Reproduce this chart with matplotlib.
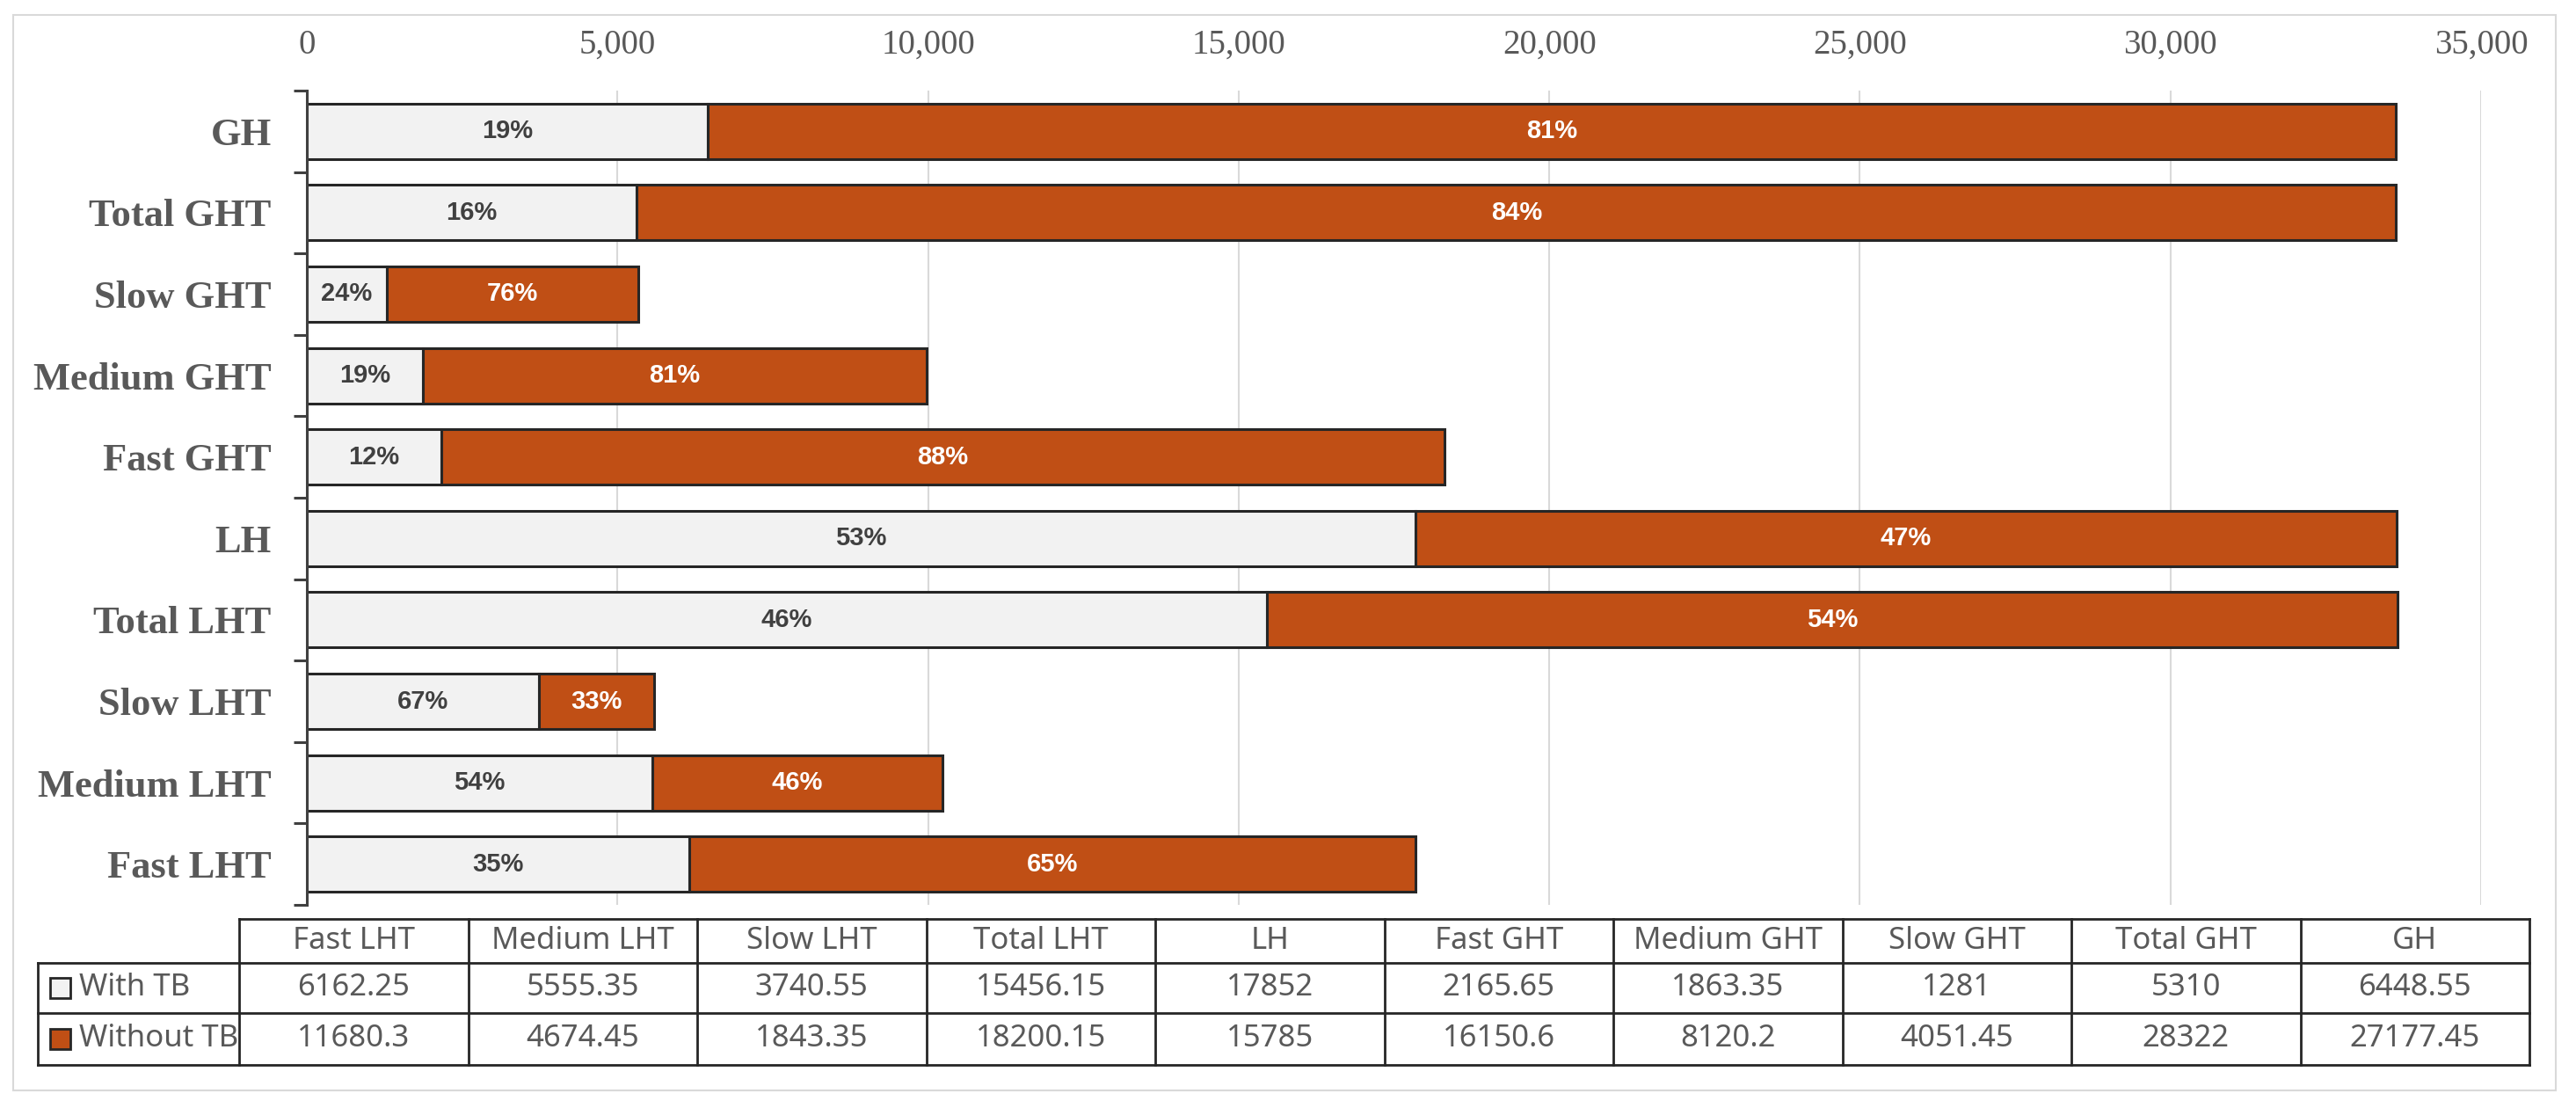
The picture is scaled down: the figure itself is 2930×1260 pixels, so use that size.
import numpy as np
import matplotlib.pyplot as plt
from matplotlib.patches import Rectangle

# data, bottom to top (same order as the data table)
categories = ['Fast LHT', 'Medium LHT', 'Slow LHT', 'Total LHT', 'LH',
              'Fast GHT', 'Medium GHT', 'Slow GHT', 'Total GHT', 'GH']
with_tb = [6162.25, 5555.35, 3740.55, 15456.15, 17852,
           2165.65, 1863.35, 1281, 5310, 6448.55]
without_tb = [11680.3, 4674.45, 1843.35, 18200.15, 15785,
              16150.6, 8120.2, 4051.45, 28322, 27177.45]
series_names = ['With TB', 'Without TB']
x_ticks = [0, 5000, 10000, 15000, 20000, 25000, 30000, 35000]

light = '#F2F2F2'
orange = '#C04F15'
edge = '#262626'
grey_text = '#595959'

W, H = 2930, 1260
fig = plt.figure(figsize=(W / 100, H / 100), dpi=100)

# background axes in pixel units for the frame and the data table
bg = fig.add_axes([0, 0, 1, 1])
bg.set_xlim(0, W)
bg.set_ylim(H, 0)
bg.axis('off')
bg.add_patch(Rectangle((15, 17), 2892, 1223, facecolor='white',
                       edgecolor='#D9D9D9', lw=1.5))

# main bar chart
ax = fig.add_axes([349 / W, 1 - 1029 / H, (2822 - 349) / W, (1029 - 103) / H])
ax.set_facecolor('none')
y = np.arange(len(categories))
ax.barh(y, with_tb, height=0.68, color=light, edgecolor=edge, lw=2.2, zorder=3)
ax.barh(y, without_tb, left=with_tb, height=0.68, color=orange,
        edgecolor=edge, lw=2.2, zorder=3)

# percentage labels in the middle of each segment
lkw = dict(ha='center', va='center', fontsize=21, fontweight='bold',
           family='Liberation Sans', zorder=4)
for i in range(len(categories)):
    total = with_tb[i] + without_tb[i]
    ax.text(with_tb[i] / 2, i, f'{round(100 * with_tb[i] / total)}%',
            color='#404040', **lkw)
    ax.text(with_tb[i] + without_tb[i] / 2, i,
            f'{round(100 * without_tb[i] / total)}%', color='white', **lkw)

ax.set_xlim(0, 35000)
ax.set_ylim(-0.5, len(categories) - 0.5)
ax.xaxis.tick_top()
ax.set_xticks(x_ticks)
ax.set_xticklabels([f'{t:,}' for t in x_ticks], family='Liberation Serif',
                   fontsize=28, color=grey_text)
ax.tick_params(axis='x', length=0, pad=24)
ax.grid(axis='x', color='#D9D9D9', lw=1.5, zorder=0)

ax.set_yticks(y)
ax.set_yticklabels(categories, family='Liberation Serif', fontsize=32,
                   fontweight='bold', color=grey_text)
ax.set_yticks(np.arange(-0.5, len(categories)), minor=True)
ax.tick_params(axis='y', which='major', length=0, pad=29)
ax.tick_params(axis='y', which='minor', length=11, width=2.2, color='#404040',
               direction='out')
for s in ['top', 'right', 'bottom']:
    ax.spines[s].set_visible(False)
ax.spines['left'].set_color('#404040')
ax.spines['left'].set_linewidth(2.2)
ax.spines['left'].set_zorder(5)

# data table under the chart
col_x0, col_w = 272, 260.5
leg_x0 = 43
rows_y = [1045, 1095, 1152, 1211]
x_end = col_x0 + col_w * len(categories)
tkw = dict(family='Noto Sans', fontsize=25, color=grey_text, va='center')

bg.plot([col_x0, x_end], [rows_y[0], rows_y[0]], color=edge, lw=2)
for yy in rows_y[1:]:
    bg.plot([leg_x0, x_end], [yy, yy], color=edge, lw=2)
bg.plot([leg_x0, leg_x0], [rows_y[1], rows_y[3]], color=edge, lw=2)
for k in range(len(categories) + 1):
    xx = col_x0 + k * col_w
    bg.plot([xx, xx], [rows_y[0], rows_y[3]], color=edge, lw=2)

def fmt(v):
    return f'{v:.2f}'.rstrip('0').rstrip('.')

for k, cat in enumerate(categories):
    xc = col_x0 + (k + 0.5) * col_w
    bg.text(xc, (rows_y[0] + rows_y[1]) / 2, cat, ha='center', **tkw)
    bg.text(xc, (rows_y[1] + rows_y[2]) / 2, fmt(with_tb[k]), ha='center', **tkw)
    bg.text(xc, (rows_y[2] + rows_y[3]) / 2, fmt(without_tb[k]), ha='center', **tkw)

for r, (name, col) in enumerate(zip(series_names, [light, orange])):
    yc = (rows_y[r + 1] + rows_y[r + 2]) / 2
    bg.add_patch(Rectangle((57, yc - 11.5), 23, 23, facecolor=col,
                           edgecolor=edge, lw=2))
    bg.text(90, yc, name, ha='left', **tkw)

fig.savefig('out.png', dpi=100)
